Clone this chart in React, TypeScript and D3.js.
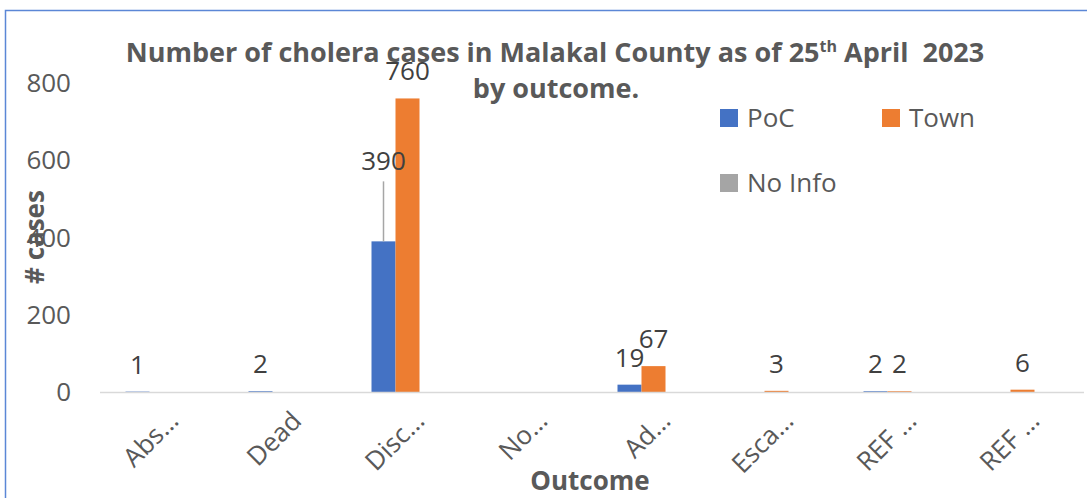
import React, { useEffect, useRef } from "react";
import * as d3 from "d3";

// chart values
const categories = ["Abs…", "Dead", "Disc…", "No…", "Ad…", "Esca…", "REF …", "REF …"];
const seriesNames = ["PoC", "Town", "No Info"];
const pocValues = [1, 2, 390, null, 19, null, 2, null];
const townValues = [null, null, 760, null, 67, 3, 2, 6];
const noInfoValues = [null, null, null, null, null, null, null, null];
const yTicks = [0, 200, 400, 600, 800];
const colors = ["#4472C4", "#ED7D31", "#A5A5A5"];

const W = 1087, H = 498;
const FONT = "'Open Sans', sans-serif";
const FS = 26;

export default function App() {
  const ref = useRef<SVGSVGElement>(null);

  useEffect(() => {
    const svg = d3.select(ref.current);
    svg.selectAll("*").remove();

    const values = [pocValues, townValues, noInfoValues];

    // frame
    svg.append("rect").attr("x", 5.5).attr("y", 10.5).attr("width", W + 20).attr("height", H + 20)
      .attr("fill", "white").attr("stroke", "#5B87D6").attr("stroke-width", 1.5);

    const x = d3.scaleBand<number>().domain(d3.range(categories.length)).range([100, 1084]).padding(0);
    const y = d3.scaleLinear().domain([0, 800]).range([392, 83]);
    const barW = 24;
    const x1 = d3.scaleBand<number>().domain(d3.range(seriesNames.length)).range([0, barW * 3]);
    const groupLeft = (i: number) => x(i)! + x.bandwidth() / 2 - barW * 1.5;

    // y tick labels
    svg.append("g").selectAll("text").data(yTicks).join("text")
      .attr("x", 71).attr("y", d => y(d)).attr("dy", "0.35em")
      .attr("text-anchor", "end").attr("font-family", FONT).attr("font-size", FS)
      .attr("fill", "#595959").text(d => d);

    // bars
    values.forEach((vals, s) => {
      svg.append("g").selectAll("rect").data(vals.map((v, i) => ({ v, i })).filter(d => d.v != null))
        .join("rect")
        .attr("x", d => groupLeft(d.i) + x1(s)!)
        .attr("width", x1.bandwidth())
        .attr("y", d => y(d.v as number))
        .attr("height", d => y(0) - y(d.v as number))
        .attr("fill", colors[s]);
    });

    // axis line
    svg.append("line").attr("x1", x.range()[0]).attr("x2", x.range()[1])
      .attr("y1", y(0) + 0.5).attr("y2", y(0) + 0.5).attr("stroke", "#D9D9D9").attr("stroke-width", 1.5);

    // data labels
    const labels = svg.append("g").attr("font-family", FONT).attr("font-size", FS)
      .attr("fill", "#404040").attr("text-anchor", "middle");
    values.forEach((vals, s) => {
      vals.forEach((v, i) => {
        if (v == null) return;
        const cx = groupLeft(i) + x1(s)! + barW / 2;
        let ly = y(v) - 18;
        if (v === 390) {
          // label moved up with a leader line
          ly = y(v) - 71;
          svg.append("line").attr("x1", cx).attr("x2", cx).attr("y1", y(v)).attr("y2", y(v) - 60)
            .attr("stroke", "#A6A6A6").attr("stroke-width", 1.5);
        }
        labels.append("text").attr("x", cx).attr("y", ly).text(v);
      });
    });

    // x category labels
    svg.append("g").selectAll("text").data(categories).join("text")
      .attr("transform", (d, i) => `translate(${x(i)! + x.bandwidth() / 2 + 12},${416}) rotate(-45)`)
      .attr("text-anchor", "end").attr("dy", "0.35em")
      .attr("font-family", FONT).attr("font-size", FS).attr("fill", "#595959").text(d => d);

    // axis titles
    svg.append("text").attr("x", 590).attr("y", 490).attr("text-anchor", "middle")
      .attr("font-family", FONT).attr("font-size", FS).attr("font-weight", "bold")
      .attr("fill", "#595959").text("Outcome");
    svg.append("text").attr("transform", "translate(44,237) rotate(-90)").attr("text-anchor", "middle")
      .attr("font-family", FONT).attr("font-size", FS).attr("font-weight", "bold")
      .attr("fill", "#595959").text("# cases");

    // title
    const t1 = svg.append("text").attr("x", 555).attr("y", 62).attr("text-anchor", "middle")
      .attr("font-family", FONT).attr("font-size", 27).attr("font-weight", "bold").attr("fill", "#595959");
    t1.append("tspan").text("Number of cholera cases in Malakal County as of 25");
    t1.append("tspan").attr("font-size", 16).attr("dy", -10).text("th");
    t1.append("tspan").attr("dy", 10).text(" April\u00a0 2023");
    svg.append("text").attr("x", 556).attr("y", 98).attr("text-anchor", "middle")
      .attr("font-family", FONT).attr("font-size", 27).attr("font-weight", "bold").attr("fill", "#595959")
      .text("by outcome.");

    // legend
    const legendPos = [[720, 118], [882, 118], [720, 183]];
    const lg = svg.append("g").selectAll("g").data(seriesNames).join("g")
      .attr("transform", (d, i) => `translate(${legendPos[i][0]},${legendPos[i][1]})`);
    lg.append("rect").attr("x", 0).attr("y", -9).attr("width", 18).attr("height", 18).attr("fill", (d, i) => colors[i]);
    lg.append("text").attr("x", 27).attr("y", 0).attr("dy", "0.35em")
      .attr("font-family", FONT).attr("font-size", FS).attr("fill", "#595959").text(d => d);
  }, []);

  return <svg ref={ref} width={W} height={H} style={{ position: "absolute", left: 0, top: 0 }} />;
}
